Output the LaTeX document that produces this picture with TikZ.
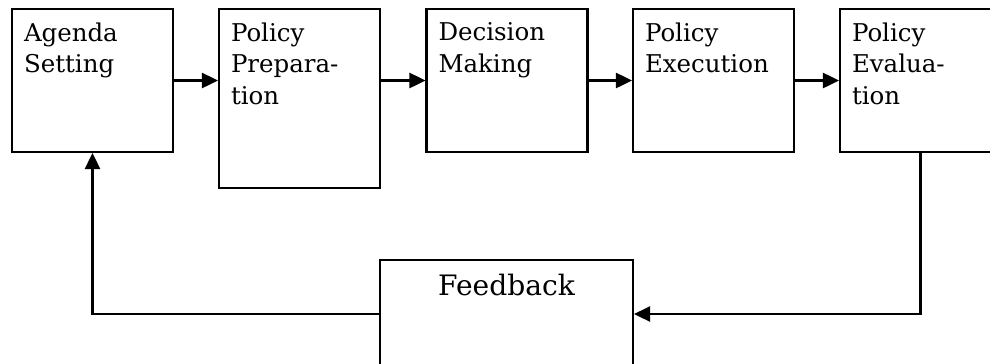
\documentclass[tikz,border=0pt]{standalone}
\usepackage{fontspec}
\setmainfont{DejaVu Serif}
\usetikzlibrary{arrows.meta,positioning}

\begin{document}
\begin{tikzpicture}[x=0.025cm, y=-0.025cm,
  stage/.style={draw, line width=1.5pt, minimum width=4.025cm, minimum height=3.575cm, inner sep=0pt},
  txt/.style={anchor=north west, align=left, inner xsep=0.32cm, inner ysep=0.36cm, font=\fontsize{17.4}{22.5}\selectfont},
  arr/.style={-{Triangle[length=0.4cm, width=0.38cm]}, line width=1.5pt}
]
\clip (0,0) rectangle (990,363);
% stages
\node[stage] (agenda) at (92.5,80.5) {};
\node[stage, minimum height=4.475cm] (prep) at (299.5,98.5) {};
\node[stage] (decision) at (507,80.5) {};
\node[stage] (exec) at (713.5,80.5) {};
\node[stage] (eval) at (920.5,80.5) {};
\node[stage, minimum width=6.325cm, minimum height=2.7cm] (feedback) at (506.5,314) {};
% labels
\node[txt] (agendat) at (agenda.north west) {Agenda\\Setting};
\node[txt] (prept) at (prep.north west) {Policy\\Prepara-\\tion};
\node[txt] (decisiont) at (decision.north west) {Decision\\Making};
\node[txt] (exect) at (exec.north west) {Policy\\Execution};
\node[txt] (evalt) at (eval.north west) {Policy\\Evalua-\\tion};
\node[txt, anchor=north, inner ysep=0.38cm, font=\fontsize{20}{24}\selectfont] (feedbackt) at (feedback.north) {Feedback};
% arrows
\draw[arr] (agenda) -- (prep.west |- agenda);
\draw[arr] (prep.east |- decision) -- (decision);
\draw[arr] (decision) -- (exec);
\draw[arr] (exec) -- (eval);
\draw[arr] (eval.south) |- (feedback.east);
\draw[arr] (feedback.west) -| (agenda.south);
\end{tikzpicture}
\end{document}
